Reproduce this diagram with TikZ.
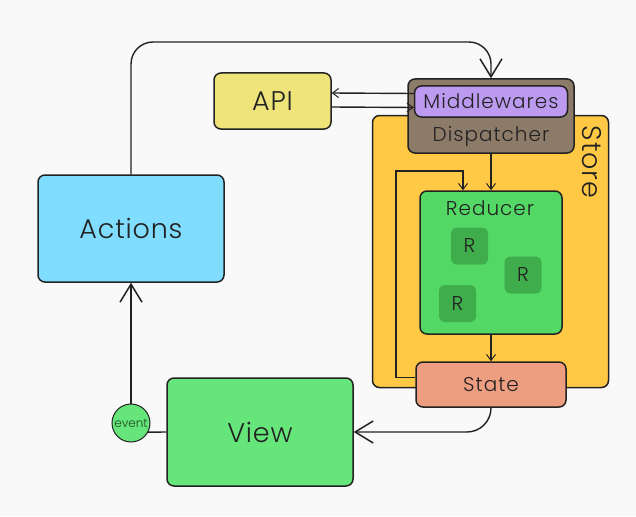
\documentclass[tikz,border=0pt]{standalone}
\usepackage{fontspec}
\setmainfont{Poppins Light}
\newfontfamily\bigf{Poppins Light}[LetterSpace=3]
\newfontfamily\midf{Poppins Light}[LetterSpace=5]
\usetikzlibrary{arrows.meta}
\definecolor{bgc}{HTML}{F9F9F9}
\definecolor{actc}{HTML}{80DDFF}
\definecolor{apic}{HTML}{EFE47A}
\definecolor{dispc}{HTML}{8C7B69}
\definecolor{mwc}{HTML}{BC9AF0}
\definecolor{storec}{HTML}{FFC945}
\definecolor{redc}{HTML}{53D866}
\definecolor{rc}{HTML}{3FAD4B}
\definecolor{statec}{HTML}{EE9E80}
\definecolor{viewc}{HTML}{66E57B}
\definecolor{inkc}{HTML}{222222}
\definecolor{evc}{HTML}{1E4A22}
\begin{document}
\begin{tikzpicture}[x=1pt,y=-1pt,
  box/.style={draw=inkc,line width=1.5pt,rounded corners=7pt,inner sep=0pt,text=inkc},
  bigtext/.style={font=\bigf\fontsize{27}{30}\selectfont},
  midtext/.style={font=\midf\fontsize{20}{23}\selectfont},
  rbox/.style={fill=rc,rounded corners=6pt,minimum width=37pt,minimum height=37pt,inner sep=0pt,text=inkc,font=\fontsize{20}{23}\selectfont},
  conn/.style={draw=inkc,line width=1.4pt},
  bigarrow/.style={conn,-{Straight Barb[length=18pt,width=22pt,line width=1.5pt]}},
  smallarrow/.style={conn,-{Straight Barb[length=6pt,width=9pt,line width=1pt]}}
]
\fill[bgc] (0,0) rectangle (636,516);
\useasboundingbox (0,0) rectangle (636,516);

\node[box,fill=storec,minimum width=236pt,minimum height=272pt] (store) at (490.5,251.5) {};
\node[text=inkc,bigtext,rotate=-90] (storelbl) at (592,162) {Store};

\node[box,fill=actc,bigtext,minimum width=186pt,minimum height=107pt] (actions) at (131,228.5) {Actions};
\node[box,fill=apic,bigtext,minimum width=117pt,minimum height=56pt] (api) at (272.5,101) {API};
\node[box,fill=dispc,minimum width=166pt,minimum height=74pt] (disp) at (491,116) {};
\node[box,fill=mwc,midtext,minimum width=153pt,minimum height=31pt] (mw) at (491,101.5) {Middlewares};
\node[text=inkc,midtext] (displbl) at (491,136.5) {Dispatcher};

\node[box,fill=redc,minimum width=142pt,minimum height=143pt] (reducer) at (491,262.5) {};
\node[text=inkc,midtext] (redlbl) at (490,208) {Reducer};
\node[rbox] (r1) at (469.5,246) {R};
\node[rbox] (r2) at (523,275) {R};
\node[rbox] (r3) at (457.5,303.5) {R};

\node[box,fill=statec,midtext,minimum width=150pt,minimum height=45pt] (state) at (491,384.5) {State};
\node[box,fill=viewc,bigtext,minimum width=186pt,minimum height=108pt] (view) at (260,432) {View};
\node[circle,draw=inkc,line width=1pt,fill=viewc,minimum size=38pt,inner sep=0pt,text=evc,font=\fontsize{12}{13}\selectfont] (event) at (131,423) {event};

\coordinate (topline) at (0,42);
\coordinate (loopc) at (396,171);

% connectors
\draw[bigarrow,rounded corners=22pt] (actions.north) -- (actions.north |- topline) -- (disp.north |- topline) -- (disp.north);
\draw[smallarrow] ([yshift=8pt]mw.west) -- ([yshift=8pt]api.east);
\draw[smallarrow] ([yshift=-6pt]api.east) -- ([yshift=-6pt]mw.west);
\draw[smallarrow] (disp.south) -- (reducer.north);
\draw[smallarrow] (reducer.south) -- (state.north);
\draw[smallarrow] ([yshift=7pt]state.west) -| (loopc) -| ([xshift=-28pt]reducer.north);
\draw[bigarrow,rounded corners=24pt] (state.south) |- (view.east);
\draw[bigarrow] (event.north) -- (actions.south);
\draw[conn] (event.-28) -- (view.west);
\end{tikzpicture}
\end{document}
